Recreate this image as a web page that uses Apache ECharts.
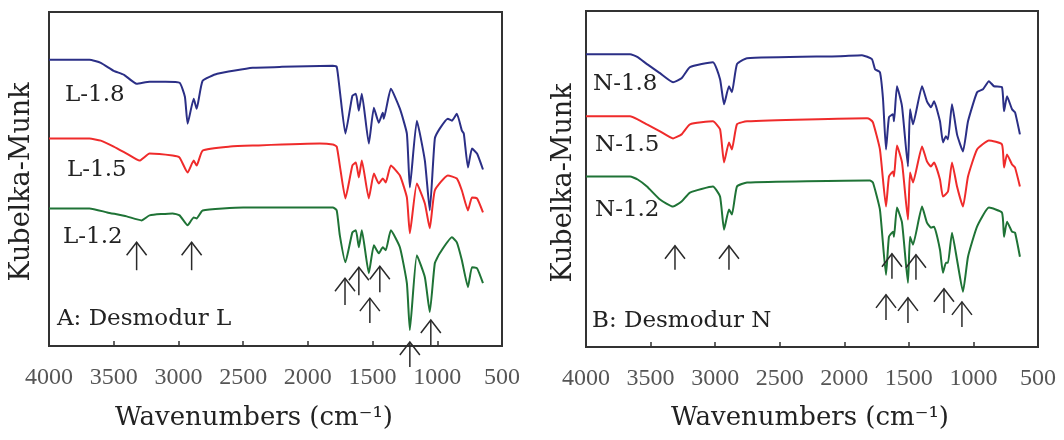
<!DOCTYPE html>
<html>
<head>
<meta charset="utf-8">
<script src="https://cdn.jsdelivr.net/npm/echarts@6/dist/echarts.min.js"></script>
<style>
html,body{margin:0;padding:0;background:#fff;}
#main{width:1064px;height:440px;}
</style>
</head>
<body>
<div id="main"></div>
<script>
// panel A: Desmodur L  [wavenumber, Kubelka-Munk (offset)]
var lBlue = [[4000,287],[3687,287],[3600,284],[3500,276],[3420,272],[3323,263],[3223,265],[3100,265],[2991,264],[2950,250],[2929,223],[2882,248],[2859,238],[2813,266],[2700,273],[2426,279],[2200,280],[1807,281],[1777,280],[1753,256],[1710,213],[1656,251],[1629,253],[1606,236],[1583,253],[1529,203],[1490,239],[1452,224],[1421,234],[1413,228],[1359,258],[1289,238],[1235,213],[1212,159],[1158,226],[1096,186],[1058,136],[1019,208],[981,218],[919,228],[887,226],[849,233],[810,216],[795,213],[763,179],[732,198],[693,193],[647,177]];
var lRed = [[4000,208],[3687,208],[3600,206],[3500,200],[3400,193],[3300,186],[3223,193],[3045,191],[2991,189],[2929,174],[2882,186],[2859,181],[2813,196],[2600,200],[2426,201],[1908,203],[1807,202],[1777,200],[1753,181],[1710,148],[1656,181],[1629,184],[1606,169],[1583,186],[1529,148],[1490,173],[1452,163],[1421,168],[1398,164],[1359,181],[1289,171],[1235,149],[1212,113],[1158,163],[1096,143],[1058,118],[1019,156],[919,171],[849,168],[810,156],[763,136],[732,149],[693,148],[647,134]];
var lGreen = [[4000,138],[3687,138],[3550,134],[3400,130],[3285,126],[3223,131],[3045,133],[2991,131],[2929,121],[2882,129],[2859,128],[2813,136],[2500,139],[1807,139],[1777,136],[1753,111],[1710,84],[1656,114],[1629,116],[1606,99],[1583,116],[1529,73],[1490,101],[1452,93],[1421,99],[1398,96],[1359,116],[1289,99],[1235,63],[1212,16],[1158,91],[1096,69],[1058,34],[1019,83],[981,93],[887,109],[849,104],[810,86],[763,59],[732,79],[693,78],[647,63]];
// arrows: [wavenumber, tip, tail]
var lArrows = [[3323,104,76],[2898,104,76],[1713,68,41],[1606,79,51],[1521,48,23],[1444,80,54],[1212,4,-21],[1050,26,1]];

// panel B: Desmodur N
var nBlue = [[4000,292],[3659,292],[3600,289],[3528,282],[3427,273],[3326,264],[3260,268],[3195,279],[3017,284],[2962,267],[2931,242],[2893,260],[2870,254],[2831,282],[2753,288],[2033,290],[1863,291],[1786,287],[1762,277],[1724,274],[1700,247],[1677,197],[1654,229],[1623,232],[1615,225],[1592,260],[1553,240],[1507,180],[1491,237],[1468,222],[1398,260],[1360,245],[1329,239],[1305,245],[1259,225],[1236,204],[1213,210],[1197,207],[1166,242],[1127,212],[1081,195],[1042,225],[972,254],[926,257],[880,265],[841,260],[779,259],[763,235],[740,250],[701,237],[678,234],[640,212]];
var nRed = [[4000,230],[3659,230],[3600,227],[3528,222],[3427,215],[3326,208],[3260,212],[3195,222],[3017,225],[2962,217],[2931,184],[2893,204],[2870,197],[2831,222],[2753,225],[1824,228],[1801,227],[1778,224],[1724,197],[1677,140],[1654,170],[1623,175],[1615,170],[1592,201],[1553,184],[1507,127],[1491,174],[1468,164],[1398,200],[1360,185],[1329,180],[1305,184],[1259,167],[1236,150],[1197,155],[1166,184],[1127,160],[1081,140],[1042,170],[972,197],[880,206],[779,202],[763,179],[740,192],[701,182],[678,179],[640,160]];
var nGreen = [[4000,170],[3659,170],[3600,167],[3528,160],[3427,147],[3326,140],[3260,145],[3195,154],[3017,160],[2962,150],[2931,117],[2893,137],[2870,132],[2831,160],[2753,164],[1824,166],[1801,166],[1778,164],[1724,137],[1677,72],[1654,110],[1623,115],[1615,110],[1592,139],[1553,124],[1507,64],[1491,110],[1468,102],[1398,140],[1360,124],[1329,119],[1305,120],[1259,97],[1236,74],[1213,84],[1197,84],[1166,114],[1127,87],[1081,55],[1042,90],[972,120],[880,139],[779,134],[763,110],[740,125],[701,115],[678,114],[640,90]];
var nArrows = [[3311,101,77],[2893,101,77],[1631,93,68],[1445,92,67],[1677,52,27],[1507,49,24],[1228,58,34],[1089,45,20]];

var lNames = ['L-1.8','L-1.5','L-1.2'];
var nNames = ['N-1.8','N-1.5','N-1.2'];

var colors = ['#2b2f86','#ef2b2b','#1f7336'];
var serif = 'DejaVu Serif';

var myChart = echarts.init(document.getElementById('main'));

function arrowItem(params, api){
    var tip = api.coord([api.value(0), api.value(1)]);
    var tail = api.coord([api.value(0), api.value(2)]);
    var st = {stroke:'#2a2a2a', lineWidth:1.5, fill:null};
    return {
        type:'group',
        children:[
            {type:'line', shape:{x1:tip[0], y1:tip[1], x2:tail[0], y2:tail[1]}, style:st},
            {type:'polyline', shape:{points:[[tip[0]-10,tip[1]+13],[tip[0],tip[1]],[tip[0]+10,tip[1]+13]]}, style:st}
        ]
    };
}

function xAxisOpt(i){
    return {
        gridIndex:i, type:'value', inverse:true, min:500, max:4000, interval:500,
        axisLine:{show:true, lineStyle:{color:'#333', width:2}},
        axisTick:{show:true, inside:true, length:5, lineStyle:{color:'#333', width:1.5}},
        splitLine:{show:false},
        axisLabel:{fontFamily:'Liberation Serif', fontSize:24, color:'#555', margin:20,
            formatter:function(v){ return String(v); }}
    };
}
function yAxisOpt(i){
    return {gridIndex:i, type:'value', min:0, max:335, show:false};
}
function lineSeries(data, c, i){
    return {
        type:'line', xAxisIndex:i, yAxisIndex:i, data:data, showSymbol:false, smooth:0.15,
        lineStyle:{color:c, width:2}, itemStyle:{color:c}, silent:true
    };
}
function arrowSeries(data, i){
    return {
        type:'custom', xAxisIndex:i, yAxisIndex:i, data:data, renderItem:arrowItem,
        encode:{x:0, y:[1,2]}, clip:false, silent:true, z:5
    };
}
function txt(s, x, y, size, rot){
    return {
        type:'text', x:x, y:y, rotation:rot || 0, z:10,
        style:{text:s, font:size+'px "'+serif+'"', fill:'#222',
            textAlign: rot ? 'center' : 'left', textVerticalAlign:'middle'}
    };
}

var option = {
    animation:false,
    grid:[
        {left:49, width:453, top:12, height:334, show:true, borderColor:'#333', borderWidth:2},
        {left:586, width:452, top:11, height:336, show:true, borderColor:'#333', borderWidth:2}
    ],
    xAxis:[xAxisOpt(0), xAxisOpt(1)],
    yAxis:[yAxisOpt(0), yAxisOpt(1)],
    series:[
        lineSeries(lBlue, colors[0], 0),
        lineSeries(lRed, colors[1], 0),
        lineSeries(lGreen, colors[2], 0),
        arrowSeries(lArrows, 0),
        lineSeries(nBlue, colors[0], 1),
        lineSeries(nRed, colors[1], 1),
        lineSeries(nGreen, colors[2], 1),
        arrowSeries(nArrows, 1)
    ],
    graphic:[
        txt(lNames[0], 65, 95, 23), txt(lNames[1], 67, 170, 23), txt(lNames[2], 63, 237, 23),
        txt('A: Desmodur L', 57, 319, 23),
        txt(nNames[0], 593, 84, 23), txt(nNames[1], 595, 145, 23), txt(nNames[2], 595, 210, 23),
        txt('B: Desmodur N', 592, 321, 23),
        {type:'text', x:254, y:418, z:10, style:{text:'Wavenumbers (cm\u207B\u00B9)', font:'26px "'+serif+'"', fill:'#222', textAlign:'center', textVerticalAlign:'middle'}},
        {type:'text', x:810, y:418, z:10, style:{text:'Wavenumbers (cm\u207B\u00B9)', font:'26px "'+serif+'"', fill:'#222', textAlign:'center', textVerticalAlign:'middle'}},
        txt('Kubelka-Munk', 22, 182, 27, Math.PI/2),
        txt('Kubelka-Munk', 564, 183, 27, Math.PI/2)
    ]
};

myChart.setOption(option);
</script>
</body>
</html>
